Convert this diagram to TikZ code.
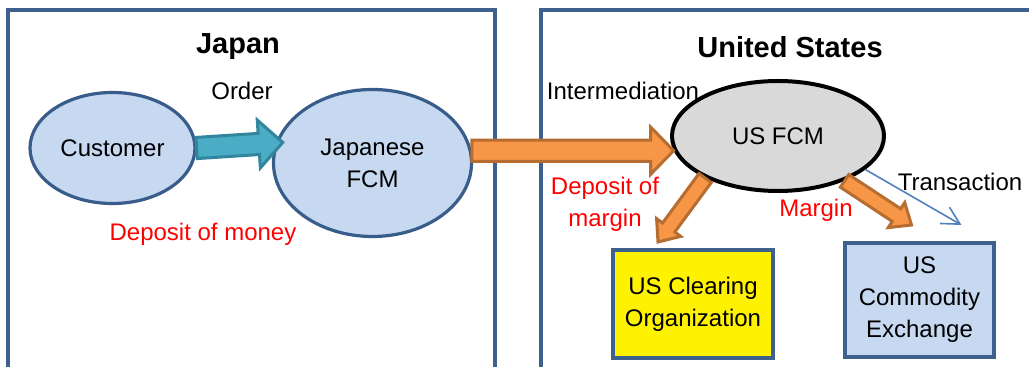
\documentclass[tikz,border=0pt]{standalone}
\usepackage{fontspec}
\setmainfont{Liberation Sans}
\usetikzlibrary{shapes.geometric,calc,arrows.meta}

\definecolor{framecol}{RGB}{62,96,140}
\definecolor{ovalfill}{RGB}{198,217,241}
\definecolor{ovaldraw}{RGB}{56,93,138}
\definecolor{tealfill}{RGB}{75,172,198}
\definecolor{tealdraw}{RGB}{49,133,156}
\definecolor{orangefill}{RGB}{247,150,70}
\definecolor{orangedraw}{RGB}{182,109,49}
\definecolor{linkblue}{RGB}{79,129,189}

\tikzstyle{party}=[ellipse,inner sep=0pt,line width=1.6pt,draw=ovaldraw,fill=ovalfill,align=center]
\tikzstyle{house}=[rectangle,inner sep=0pt,line width=2pt,draw=framecol,align=center]
\tikzstyle{region}=[line width=2pt,draw=framecol]
\tikzstyle{title}=[font=\fontsize{14.5}{17}\selectfont\bfseries]
\tikzstyle{note}=[align=center]
\tikzstyle{redtext}=[note,text=red]
\tikzstyle{tealarrow}=[line width=1.5pt,draw=tealdraw,fill=tealfill]
\tikzstyle{orangearrow}=[line width=1.5pt,draw=orangedraw,fill=orangefill]

\tikzset{
  fat arrow/.style n args={3}{to path={
    let \p1=($(\tikztotarget)!#3!(\tikztostart)$) in
    ($(\tikztostart)!#1!90:(\tikztotarget)$) -- ($(\p1)!#1!90:(\tikztotarget)$)
    -- ($(\p1)!#2!90:(\tikztotarget)$) -- (\tikztotarget)
    -- ($(\p1)!#2!-90:(\tikztotarget)$) -- ($(\p1)!#1!-90:(\tikztotarget)$)
    -- ($(\tikztostart)!#1!-90:(\tikztotarget)$) -- cycle}}
}

\begin{document}
\begin{tikzpicture}[x=0.5pt,y=-0.5pt,font=\fontsize{12}{16}\selectfont]
  \useasboundingbox (0,0) rectangle (1029,367);
  % the two countries
  \draw[region] (8,10) rectangle (495,400);
  \draw[region] (541,10) rectangle (1060,400);
  \node (japan) [title] at (238,47) {Japan};
  \node (usa) [title] at (790,47) {United States};

  % parties
  \node (cust) [party,minimum width=82.5pt,minimum height=55.5pt] at (112.5,148) {Customer};
  \node (jfcm) [party,minimum width=99pt,minimum height=73.5pt] at (372.5,163) {Japanese\\FCM};
  \node (usfcm) [party,draw=black,line width=2pt,fill=black!15,minimum width=106pt,minimum height=55pt] at (778,136) {US FCM};
  \node (clear) [house,fill=yellow,minimum width=80pt,minimum height=54pt] at (693,304) {US Clearing\\Organization};
  \node (exch) [house,fill=ovalfill,minimum width=74.5pt,minimum height=57pt] at (919.5,300) {US\\Commodity\\Exchange};
  \coordinate (cleartip) at ($(clear.north)+(-35,-6)$);
  \coordinate (exchtip) at ($(exch.north)+(-8,-16)$);
  \coordinate (transtip) at ($(exch.north)+(42,-16)$);

  % flows
  \draw[tealarrow] (cust.east) to[fat arrow={5.3pt}{12pt}{12pt}] ([xshift=3.5pt]jfcm.168);
  \draw[orangearrow] (jfcm.7) to[fat arrow={5.3pt}{11.8pt}{11.5pt}] (usfcm.188);
  \draw[orangearrow] (usfcm.210) to[fat arrow={3.8pt}{7.5pt}{9pt}] (cleartip);
  \draw[orangearrow] (usfcm.326) to[fat arrow={3.8pt}{7.5pt}{9pt}] (exchtip);
  \draw[linkblue,line width=0.8pt,-{Straight Barb[length=8.8pt,width=9.4pt]}] (usfcm.339) -- (transtip);

  % labels
  \node (order) [note] at (242,91) {Order};
  \node (inter) [note] at (623,91) {Intermediation};
  \node (money) [redtext] at (203,234) {Deposit of money};
  \node (depmarg) [redtext] at (605,204) {Deposit of\\margin};
  \node (marg) [redtext] at (816,210) {Margin};
  \node (trans) [note] at (960,182) {Transaction};
\end{tikzpicture}
\end{document}
